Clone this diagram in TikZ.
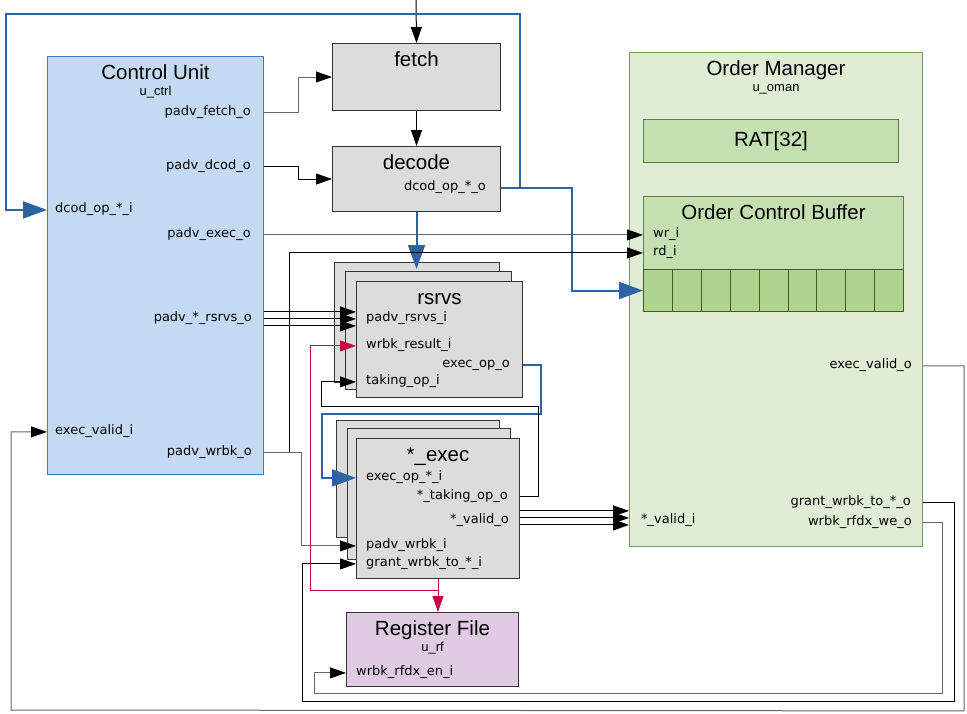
\documentclass[tikz,border=0pt]{standalone}
\usepackage{fontspec}
\setmainfont{Liberation Sans}
\newfontfamily\portfont{DejaVu Sans}
\usetikzlibrary{arrows.meta,positioning}
\definecolor{cufill}{HTML}{C4DAF2}
\definecolor{cudraw}{HTML}{3C7DBF}
\definecolor{grayfill}{HTML}{DCDCDC}
\definecolor{omfill}{HTML}{E0EDD5}
\definecolor{omdraw}{HTML}{7B9B66}
\definecolor{subfill}{HTML}{C4E0B0}
\definecolor{subdraw}{HTML}{5A7C47}
\definecolor{cellfill}{HTML}{AFD48E}
\definecolor{celldraw}{HTML}{3E5C2D}
\definecolor{rffill}{HTML}{E0CAE4}
\definecolor{busblue}{HTML}{2C63A3}
\definecolor{wrbkred}{HTML}{C8053F}
\begin{document}
\begin{tikzpicture}[x=1pt,y=-1pt,
  blk/.style={draw=black!80,line width=1pt,rectangle,inner sep=0pt,anchor=north west},
  wh/.style 2 args={minimum width=#1pt,minimum height=#2pt},
  ttl/.style={font=\fontsize{20.5}{24}\selectfont,inner sep=0pt,anchor=base,yshift=-23.5pt},
  sub/.style={font=\fontsize{13}{15}\selectfont,inner sep=0pt,anchor=base,yshift=-16pt},
  port/.style={node font=\portfont\fontsize{13}{15}\selectfont,font=\portfont\fontsize{13}{15}\selectfont,inner sep=0pt},
  pl/.style={port,anchor=mid west},
  pr/.style={port,anchor=mid east},
  wire/.style={draw=black,line width=1pt,>={Triangle[length=16pt,width=11pt,color=black]}},
  wireg/.style={wire,draw=black!60},
  bus/.style={draw=busblue,line width=2pt,>={Triangle[length=24pt,width=17pt]}},
  res/.style={draw=wrbkred,line width=1pt,>={Triangle[length=16pt,width=11pt]}}]
    \useasboundingbox (0,0) rectangle (967,713);
    % blocks
    \node[blk,wh={216}{418},fill=cufill,draw=cudraw] (ctrl) at (47,56) {};
    \node[blk,wh={168}{67},fill=grayfill] (fetch) at (332,43) {};
    \node[blk,wh={168}{65},fill=grayfill] (decode) at (332,146) {};
    \node[blk,wh={165}{120},fill=grayfill] (rs3) at (334,262) {};
    \node[blk,wh={166}{118},fill=grayfill] (rs2) at (345,271) {};
    \node[blk,wh={166}{116},fill=grayfill] (rs) at (356,281) {};
    \node[blk,wh={163}{117},fill=grayfill] (ex3) at (336,420) {};
    \node[blk,wh={163}{131},fill=grayfill] (ex2) at (347,428) {};
    \node[blk,wh={163}{140},fill=grayfill] (ex) at (356,438) {};
    \node[blk,wh={172}{74},fill=rffill] (rf) at (346,612) {};
    \node[blk,wh={293}{494},fill=omfill,draw=omdraw] (oman) at (629,52) {};
    \node[blk,wh={255}{43},fill=subfill,draw=subdraw,font=\fontsize{20.5}{24}\selectfont] (rat) at (643,119) {RAT[32]};
    \node[blk,wh={260}{115},fill=subfill,draw=subdraw] (ocb) at (643,196) {};
    \foreach \i in {0,...,8}
        \node[blk,wh={28.9}{42},fill=cellfill,draw=celldraw] (cell\i) at (643+28.9*\i,269) {};
    % titles
    \node[ttl] (ctrlT) at (ctrl.north) {Control Unit};
    \node[sub] (ctrlS) at (ctrlT.base) {u\_ctrl};
    \node[ttl] (fetchT) at (fetch.north) {fetch};
    \node[ttl] (decodeT) at (decode.north) {decode};
    \node[ttl] (rsT) at (rs.north) {rsrvs};
    \node[ttl] (exT) at (ex.north) {*\_exec};
    \node[ttl] (rfT) at (rf.north) {Register File};
    \node[sub] (rfS) at (rfT.base) {u\_rf};
    \node[ttl] (omT) at (oman.north) {Order Manager};
    \node[sub] (omS) at (omT.base) {u\_oman};
    \node[ttl] (ocbT) at (ocb.north) {Order Control Buffer};
    % ports
    \node[pr] (cu_fetch) at (251,112) {padv\_fetch\_o};
    \node[pr] (cu_dcod) at (251,166) {padv\_dcod\_o};
    \node[pl] (cu_opi) at (55,209) {dcod\_op\_*\_i};
    \node[pr] (cu_exec) at (251,234) {padv\_exec\_o};
    \node[pr] (cu_rsrvs) at (252,318) {padv\_*\_rsrvs\_o};
    \node[pl] (cu_vi) at (55,431) {exec\_valid\_i};
    \node[pr] (cu_wrbk) at (252,452) {padv\_wrbk\_o};
    \node[pr] (dc_op) at (486,187) {dcod\_op\_*\_o};
    \node[pl] (rs_padv) at (366,318) {padv\_rsrvs\_i};
    \node[pl] (rs_wrbk) at (366,345) {wrbk\_result\_i};
    \node[pr] (rs_exop) at (510,364) {exec\_op\_o};
    \node[pl] (rs_take) at (366,381) {taking\_op\_i};
    \node[pl] (ex_op) at (366,477) {exec\_op\_*\_i};
    \node[pr] (ex_take) at (508,496) {*\_taking\_op\_o};
    \node[pr] (ex_valid) at (509,520) {*\_valid\_o};
    \node[pl] (ex_padv) at (366,545) {padv\_wrbk\_i};
    \node[pl] (ex_grant) at (366,563) {grant\_wrbk\_to\_*\_i};
    \node[pl] (rf_en) at (356,672) {wrbk\_rfdx\_en\_i};
    \node[pl] (ocb_wr) at (653,234) {wr\_i};
    \node[pl] (ocb_rd) at (653,252) {rd\_i};
    \node[pr] (om_ev) at (912,365) {exec\_valid\_o};
    \node[pr] (om_gr) at (911,502) {grant\_wrbk\_to\_*\_o};
    \node[pr] (om_we) at (912,522) {wrbk\_rfdx\_we\_o};
    \node[pl] (om_vi) at (641,520) {*\_valid\_i};
    % front end
    \coordinate (in) at (416,0);
    \draw[wire,->] (in) -- (fetch.north);
    \draw[wire,->] (fetch) -- (decode);
    \draw[wireg,->] (ctrl.east |- cu_fetch.mid) -- ++(34,0) |- (fetch.west);
    \draw[wire,->] (ctrl.east |- cu_dcod.mid) -- ++(34,0) |- (decode.west);
    \draw[wireg,->] (ctrl.east |- cu_exec.mid) -- (ocb.west |- cu_exec.mid);
    % decoded op bus
    \coordinate (tl) at (6,14);
    \draw[bus] (decode.east |- dc_op.mid) -- ++(19,0) coordinate (dcj);
    \draw[bus,->] (dcj) |- (tl) |- (ctrl.west |- cu_opi.mid);
    \draw[bus,->] (dcj) -- ++(52,0) |- (cell0.west);
    \draw[bus,->] (decode.south) -- ([yshift=-7pt]decode.south |- rs3.north);
    % rsrvs
    \foreach \d in {7,0,-7}
        \draw[wire,->] ([yshift=\d pt]ctrl.east |- rs_padv.mid) -- ([yshift=\d pt]rs.west |- rs_padv.mid);
    \draw[wireg] (ctrl.east |- cu_wrbk.mid) -- ++(25,0) coordinate (wbj);
    \draw[wire,->] (wbj) |- (ocb.west |- ocb_rd.mid);
    \draw[wireg,->] (wbj) -- ++(12,0) |- (ex.west |- ex_padv.mid);
    \draw[bus,->] (rs.east |- rs_exop.mid) -| ++(18,49) -| ([xshift=-34pt]ex.west |- ex_op.mid) -- (ex.west |- ex_op.mid);
    \draw[wire,->] (ex.east |- ex_take.mid) -| ++(18,-90) -| ([xshift=-35pt]rs.west |- rs_take.mid) -- (rs.west |- rs_take.mid);
    % write back
    \draw[res,->] (ex.south) -- (ex.south |- rf.north);
    \draw[res,->] (ex.south) ++(0,11) -| ([xshift=-46pt]rs.west |- rs_wrbk.mid) -- (rs.west |- rs_wrbk.mid);
    \foreach \d in {10,3,-4}
        \draw[wire,->] ([yshift=\d pt]ex.east |- ex_valid.mid) -- ([yshift=\d pt]oman.west |- ex_valid.mid);
    % order manager outputs
    \coordinate (bl) at (11,710);
    \draw[wireg,->] (oman.east |- om_ev.mid) -| ++(41,345) -- (bl) |- (ctrl.west |- cu_vi.mid);
    \draw[wire,->] (oman.east |- om_gr.mid) -| ++(31,199) -| ([xshift=-54pt]ex.west |- ex_grant.mid) -- (ex.west |- ex_grant.mid);
    \draw[wireg,->] (oman.east |- om_we.mid) -| ++(19,171) -| ([xshift=-32pt]rf.west |- rf_en.mid) -- (rf.west |- rf_en.mid);
\end{tikzpicture}
\end{document}
